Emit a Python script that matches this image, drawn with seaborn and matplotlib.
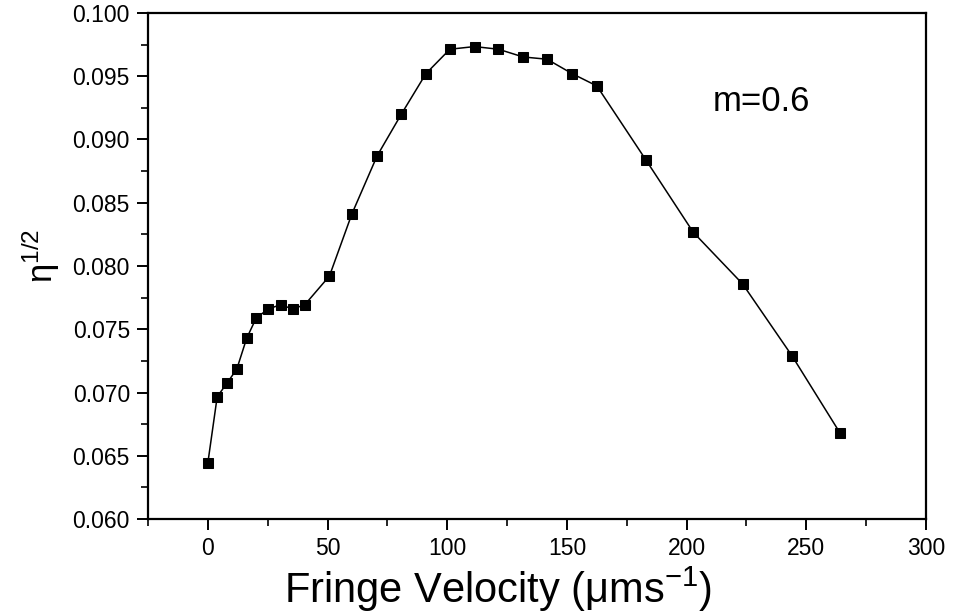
import pandas as pd
import seaborn as sns
import matplotlib.pyplot as plt
from matplotlib.ticker import MultipleLocator

# fringe velocity (um/s) and eta^(1/2)
velocity = [0, 3.9, 8.1, 12.1, 16.2, 20.2, 25.2, 30.4, 35.4, 40.5,
            50.8, 60.2, 70.7, 80.8, 91.1, 101.1, 111.4, 121.4, 131.7, 141.7,
            152.2, 162.5, 183.0, 202.8, 223.4, 244.0, 264.2]
eta_sqrt = [0.06445, 0.06967, 0.07077, 0.07186, 0.07428, 0.07589, 0.07660, 0.07694, 0.07660, 0.07694,
            0.07921, 0.08413, 0.08870, 0.09199, 0.09520, 0.09713, 0.09734, 0.09713, 0.09652, 0.09634,
            0.09520, 0.09423, 0.08838, 0.08266, 0.07858, 0.07291, 0.06677]

df = pd.DataFrame({'v': velocity, 'eta': eta_sqrt})

sns.set_style('ticks')
plt.rcParams['font.family'] = ['Liberation Sans', 'DejaVu Sans']
plt.rcParams['mathtext.fontset'] = 'custom'
plt.rcParams['mathtext.rm'] = 'Liberation Sans'
plt.rcParams['mathtext.it'] = 'Liberation Sans:italic'
plt.rcParams['mathtext.sf'] = 'Liberation Sans'
plt.rcParams['axes.labelcolor'] = 'black'
plt.rcParams['text.color'] = 'black'

fig = plt.figure(figsize=(9.55, 6.15), dpi=100)
ax = fig.add_axes([0.155, 0.156, 0.8146, 0.823])

sns.lineplot(data=df, x='v', y='eta', ax=ax, color='black', linewidth=1.1,
             marker='s', markersize=7, markeredgecolor='black', sort=False)

ax.set_xlim(-25, 300)
ax.set_ylim(0.060, 0.100)
ax.xaxis.set_major_locator(MultipleLocator(50))
ax.xaxis.set_minor_locator(MultipleLocator(25))
ax.yaxis.set_major_locator(MultipleLocator(0.005))
ax.yaxis.set_minor_locator(MultipleLocator(0.0025))
ax.yaxis.set_major_formatter(plt.FormatStrFormatter('%.3f'))

for side in ['top', 'right', 'left', 'bottom']:
    ax.spines[side].set_visible(True)
    ax.spines[side].set_linewidth(1.6)
    ax.spines[side].set_color('black')

ax.tick_params(which='major', direction='out', length=8, width=1.4,
               labelsize=16.5, colors='black', pad=5)
ax.tick_params(which='minor', direction='out', length=5, width=1.2, colors='black')

ax.set_xlabel(r'Fringe Velocity ($\mathregular{\mu}$ms$^{\mathregular{-1}}$)',
              fontsize=30, color='black')
ax.xaxis.set_label_coords(0.45, -0.09)
ax.set_ylabel(r'$\mathregular{\eta^{1/2}}$', fontsize=25, color='black')
ax.yaxis.set_label_coords(-0.11, 0.52)

ax.text(0.726, 0.824, 'm=0.6', transform=ax.transAxes, fontsize=25,
        color='black', va='center')

plt.savefig('out.png', dpi=100)
plt.close()
